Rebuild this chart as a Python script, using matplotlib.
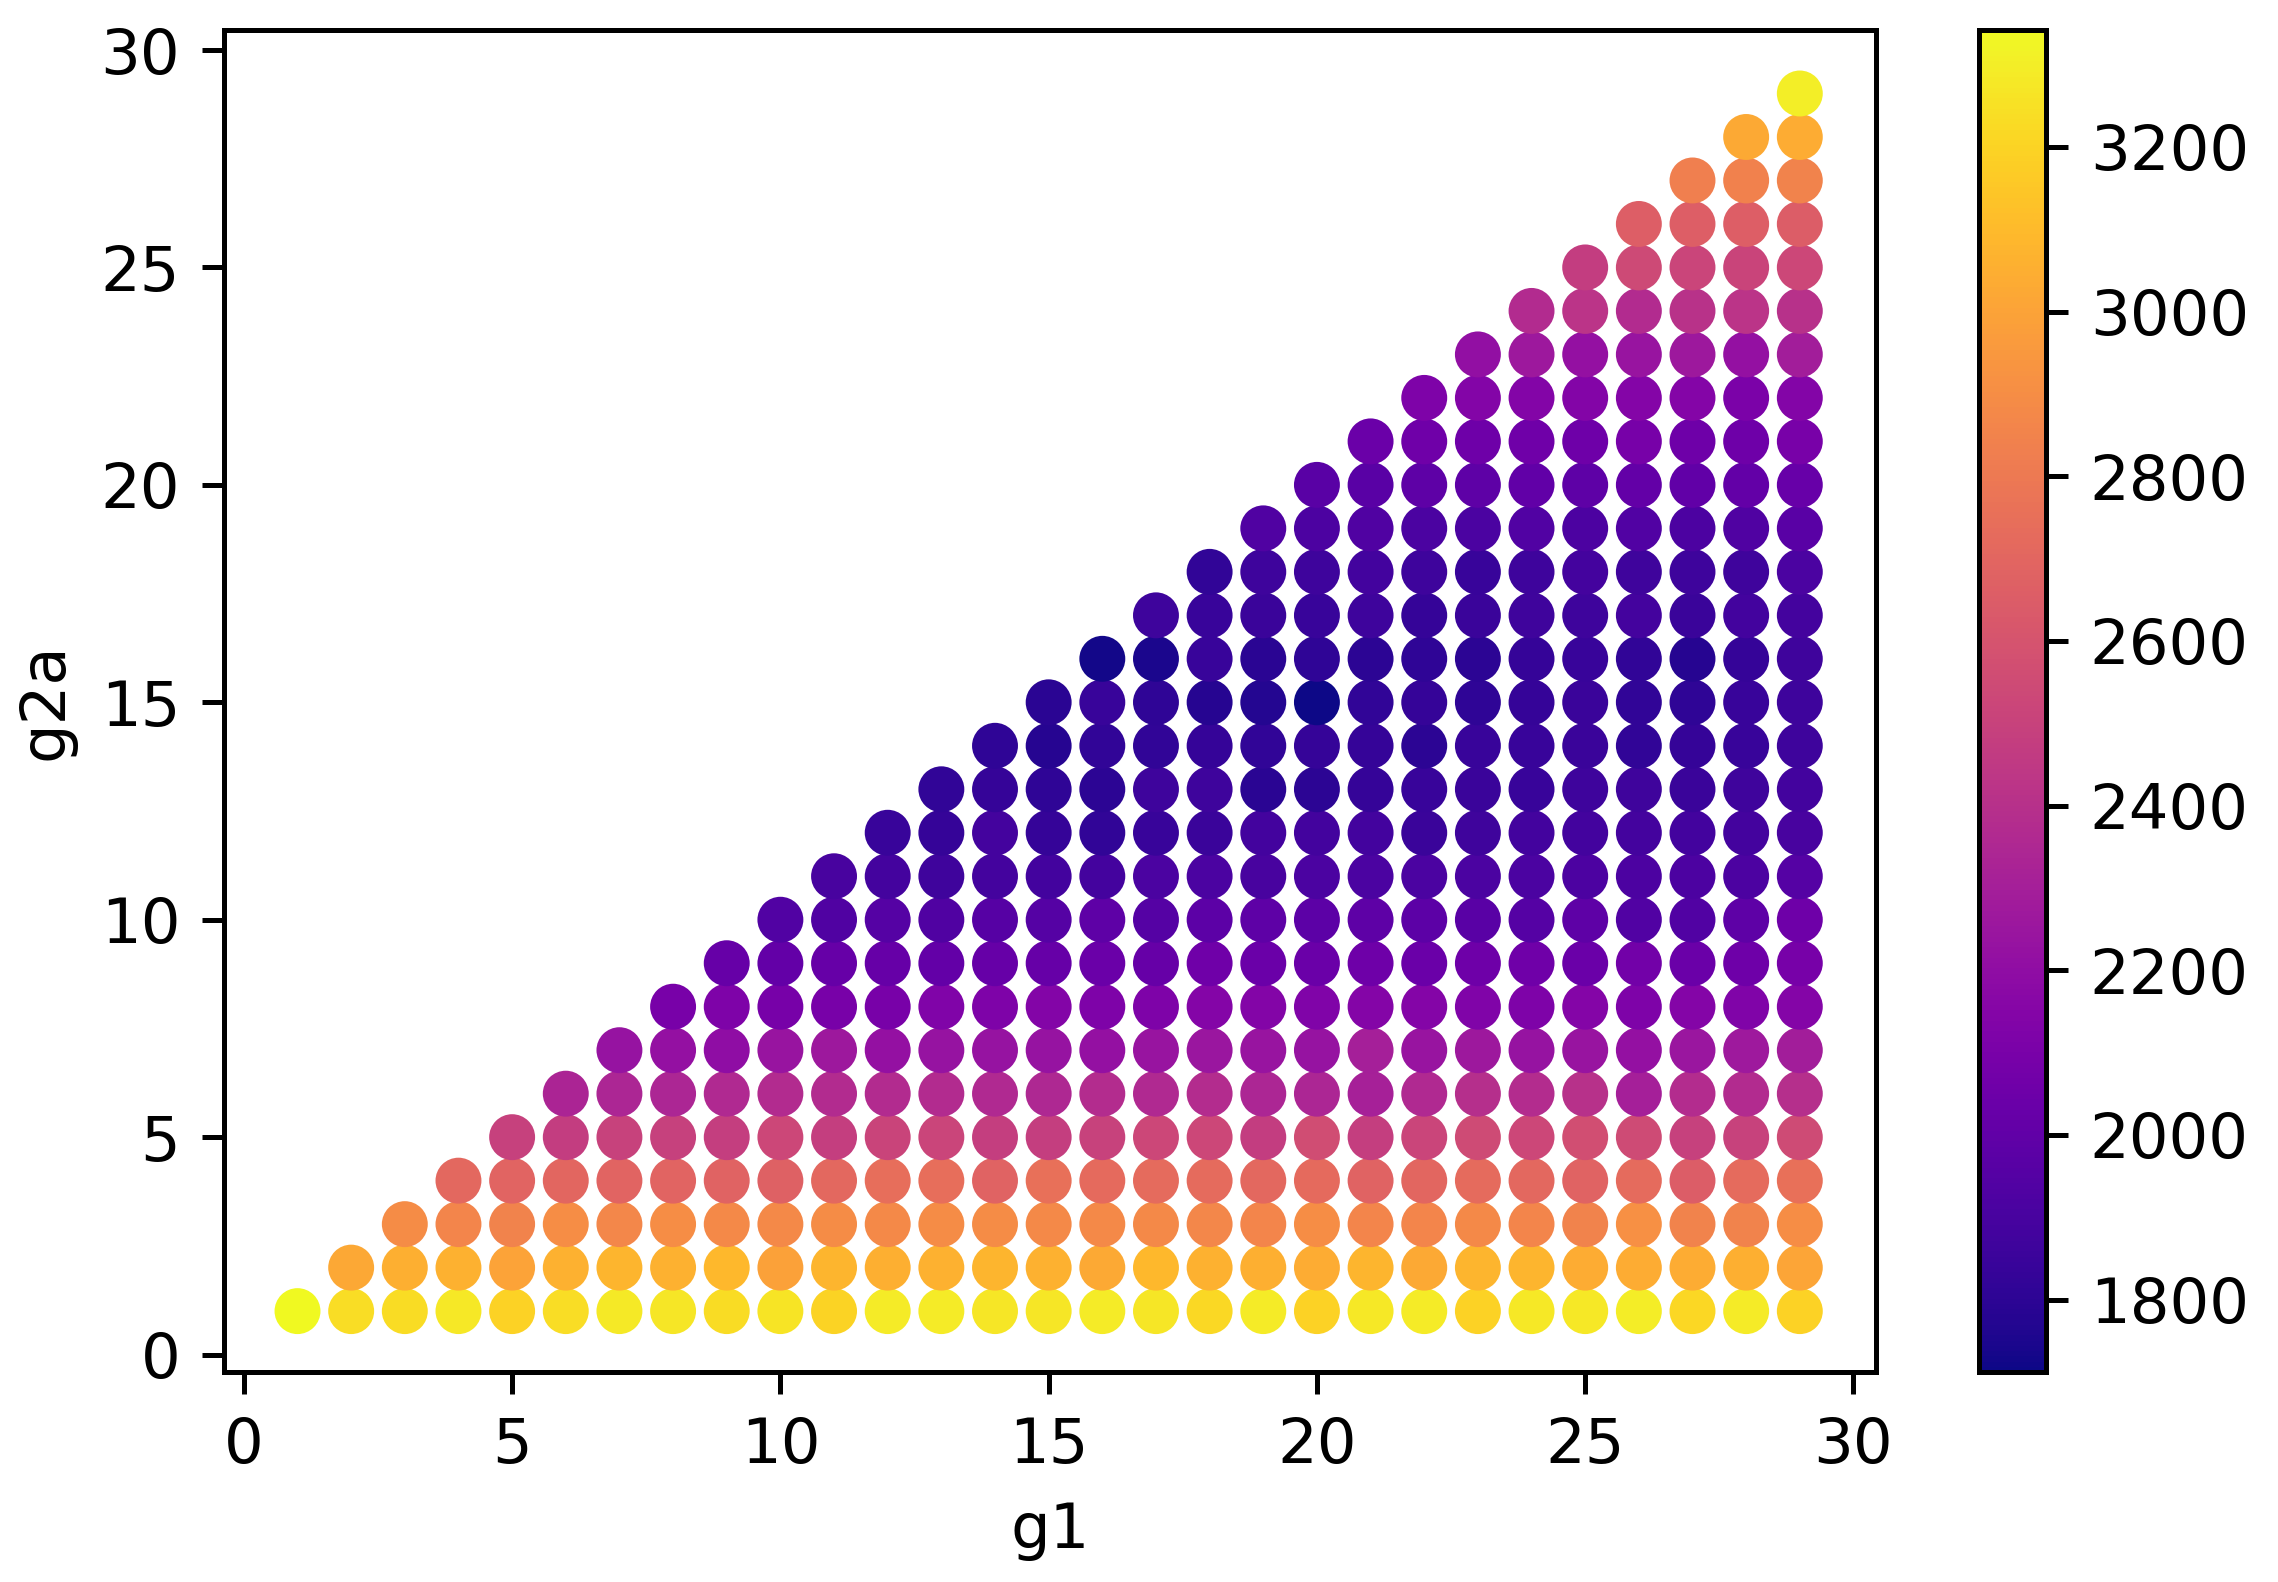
import matplotlib
matplotlib.use('Agg')
import matplotlib.pyplot as plt

# values per g2a level, each list runs from g1 = g2a up to g1 = 29
g2a_01 = [3342, 3240, 3230, 3275, 3190, 3240, 3280, 3270, 3230, 3260, 3200, 3290, 3285, 3270, 3270, 3285, 3270,
          3220, 3290, 3190, 3275, 3285, 3190, 3275, 3275, 3295, 3210, 3290, 3190]
g2a_02 = [3020, 3050, 3060, 3000, 3060, 3080, 3060, 3090, 2990, 3080, 3050, 3060, 3080, 3060, 3030, 3090,
          3060, 3050, 3040, 3080, 3030, 3075, 3080, 3040, 3040, 3040, 3050, 3010]
g2a_03 = [2890, 2860, 2850, 2900, 2870, 2900, 2880, 2880, 2890, 2880, 2890, 2890, 2880, 2880, 2880,
          2870, 2860, 2900, 2860, 2860, 2880, 2860, 2850, 2910, 2850, 2850, 2900]
g2a_04 = [2710, 2690, 2700, 2690, 2690, 2680, 2670, 2710, 2740, 2740, 2680, 2750, 2720, 2730,
          2730, 2710, 2720, 2680, 2700, 2730, 2710, 2680, 2730, 2650, 2730, 2750]
g2a_05 = [2490, 2470, 2500, 2490, 2480, 2530, 2480, 2510, 2520, 2480, 2480, 2500, 2530,
          2530, 2470, 2560, 2480, 2520, 2550, 2530, 2570, 2550, 2490, 2500, 2550]
g2a_06 = [2330, 2340, 2340, 2360, 2370, 2370, 2370, 2370, 2360, 2350, 2380, 2360,
          2380, 2340, 2340, 2310, 2360, 2390, 2380, 2400, 2300, 2380, 2370, 2390]
g2a_07 = [2230, 2220, 2200, 2240, 2260, 2220, 2230, 2230, 2230, 2220, 2240, 2250, 2240, 2230, 2300, 2240, 2260,
          2230, 2240, 2220, 2250, 2270, 2290]
g2a_08 = [2100, 2120, 2090, 2100, 2100, 2130, 2120, 2140, 2120, 2120, 2150, 2140, 2130, 2150, 2150, 2130,
          2120, 2150, 2120, 2150, 2130, 2150]
g2a_09 = [2020, 2010, 2020, 2020, 2010, 2020, 2020, 2040, 2020, 2060, 2040, 2040, 2050, 2040, 2050,
          2060, 2040, 2070, 2040, 2050, 2090]
g2a_10 = [1940, 1930, 1950, 1930, 1960, 1950, 1990, 1950, 1980, 1990, 1980, 1990, 1980, 1970,
          1950, 1990, 1940, 1940, 1990, 2050]
g2a_11 = [1900, 1890, 1870, 1890, 1880, 1890, 1910, 1910, 1900, 1910, 1910, 1910, 1910,
          1910, 1920, 1920, 1920, 1920, 1950]
g2a_12 = [1840, 1830, 1890, 1830, 1820, 1840, 1850, 1880, 1880, 1880, 1850, 1870,
          1880, 1880, 1890, 1880, 1890, 1900]
g2a_13 = [1820, 1830, 1810, 1800, 1860, 1860, 1790, 1800, 1830, 1840, 1850,
          1840, 1860, 1870, 1850, 1870, 1880]
g2a_14 = [1810, 1780, 1820, 1820, 1830, 1820, 1830, 1830, 1800, 1840,
          1840, 1850, 1820, 1830, 1840, 1860]
g2a_15 = [1790, 1840, 1810, 1780, 1770, 1712, 1820, 1830, 1810,
          1830, 1850, 1820, 1810, 1840, 1860]
g2a_16 = [1730, 1750, 1840, 1790, 1810, 1800, 1810, 1800,
          1830, 1840, 1820, 1780, 1830, 1870]
g2a_17 = [1860, 1840, 1850, 1840, 1860, 1830, 1850,
          1870, 1860, 1890, 1850, 1880, 1890]
g2a_18 = [1820, 1860, 1860, 1880, 1860, 1840, 1860, 1890, 1870, 1860, 1870, 1910]
g2a_19 = [1930, 1920, 1930, 1910, 1910, 1940, 1920, 1940, 1920, 1930, 1970]
g2a_20 = [1970, 1970, 1990, 1990, 2000, 1990, 2010, 2000, 2010, 2030]
g2a_21 = [2040, 2060, 2050, 2060, 2050, 2090, 2050, 2050, 2100]
g2a_22 = [2120, 2140, 2140, 2140, 2150, 2150, 2110, 2140]
g2a_23 = [2210, 2260, 2220, 2240, 2260, 2220, 2290]
g2a_24 = [2370, 2420, 2370, 2410, 2420, 2400]
g2a_25 = [2470, 2540, 2520, 2510, 2530]
g2a_26 = [2660, 2660, 2660, 2650]
g2a_27 = [2830, 2840, 2850]
g2a_28 = [3030, 3040]
g2a_29 = [3300]

rows = [g2a_01, g2a_02, g2a_03, g2a_04, g2a_05, g2a_06, g2a_07, g2a_08, g2a_09, g2a_10,
        g2a_11, g2a_12, g2a_13, g2a_14, g2a_15, g2a_16, g2a_17, g2a_18, g2a_19, g2a_20,
        g2a_21, g2a_22, g2a_23, g2a_24, g2a_25, g2a_26, g2a_27, g2a_28, g2a_29]

g1, g2a, cost = [], [], []
for level, row in enumerate(rows, start=1):
    for x, v in zip(range(level, 30), row, strict=True):
        g1.append(x)
        g2a.append(level)
        cost.append(v)

W, H = 2278, 1582
fig = plt.figure(figsize=(W / 450, H / 450), dpi=450)
ax = fig.add_axes([224 / W, 1 - 1372 / H, (1876 - 224) / W, (1372 - 30) / H])
cax = fig.add_axes([1979 / W, 1 - 1372 / H, (2046 - 1979) / W, (1372 - 30) / H])

sc = ax.scatter(g1, g2a, c=cost, cmap='plasma', s=54, linewidths=0)
ax.set_xlim(-0.37, 30.42)
ax.set_ylim(-0.4, 30.46)
ax.set_xticks(range(0, 31, 5))
ax.set_yticks(range(0, 31, 5))
ax.set_xlabel('g1')
ax.set_ylabel('g2a')
fig.colorbar(sc, cax=cax)

plt.savefig('out.png', dpi=450)
